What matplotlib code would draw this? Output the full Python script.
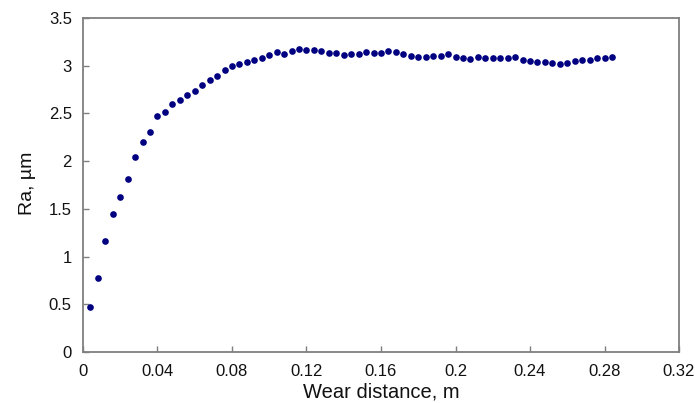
import numpy as np
import matplotlib
matplotlib.use("Agg")
import matplotlib.pyplot as plt

plt.rcParams['font.family'] = ['Liberation Sans', 'DejaVu Sans']

# Wear distance (m) sampled every 4 mm
wear_distance = [round(0.004 * i, 3) for i in range(1, 72)]

# Surface roughness Ra (µm)
ra_um = [
    0.475, 0.78, 1.16, 1.45, 1.625, 1.81, 2.04, 2.20, 2.31, 2.47,
    2.52, 2.60, 2.645, 2.69, 2.74, 2.80, 2.85, 2.89, 2.95, 3.00,
    3.015, 3.04, 3.06, 3.08, 3.11, 3.14, 3.12, 3.155, 3.18, 3.17,
    3.17, 3.15, 3.13, 3.13, 3.11, 3.12, 3.12, 3.145, 3.13, 3.13,
    3.155, 3.145, 3.12, 3.10, 3.09, 3.09, 3.10, 3.10, 3.12, 3.09,
    3.08, 3.07, 3.095, 3.085, 3.085, 3.085, 3.08, 3.09, 3.06, 3.05,
    3.04, 3.04, 3.03, 3.015, 3.03, 3.05, 3.06, 3.06, 3.08, 3.08,
    3.09,
]

x_ticks = [0, 0.04, 0.08, 0.12, 0.16, 0.2, 0.24, 0.28, 0.32]
x_tick_labels = ["0", "0.04", "0.08", "0.12", "0.16", "0.2", "0.24", "0.28", "0.32"]
y_ticks = [0, 0.5, 1, 1.5, 2, 2.5, 3, 3.5]
y_tick_labels = ["0", "0.5", "1", "1.5", "2", "2.5", "3", "3.5"]

fig = plt.figure(figsize=(6.95, 4.03), dpi=100)
ax = fig.add_axes([0.1194, 0.1266, 0.8576, 0.8287])

ax.plot(wear_distance, ra_um, linestyle='none', marker='o',
        markersize=4.8, color='#000080', markeredgewidth=0)

ax.set_xlim(0, 0.32)
ax.set_ylim(0, 3.5)
ax.set_xticks(x_ticks)
ax.set_xticklabels(x_tick_labels)
ax.set_yticks(y_ticks)
ax.set_yticklabels(y_tick_labels)

for side in ['left', 'right', 'top', 'bottom']:
    ax.spines[side].set_color('#7f7f7f')
    ax.spines[side].set_linewidth(1.3)

ax.tick_params(axis='both', direction='in', length=4, width=1,
               color='#7f7f7f', labelsize=12, labelcolor='#111111',
               top=False, right=False)
ax.tick_params(axis='x', pad=9)
ax.tick_params(axis='y', pad=8)

ax.set_xlabel("Wear distance, m", fontsize=14.5, color='#111111', labelpad=2)
ax.set_ylabel("Ra, µm", fontsize=14, color='#111111')
ax.yaxis.set_label_coords(-0.078, 0.505)

fig.savefig("out.png", dpi=100)
